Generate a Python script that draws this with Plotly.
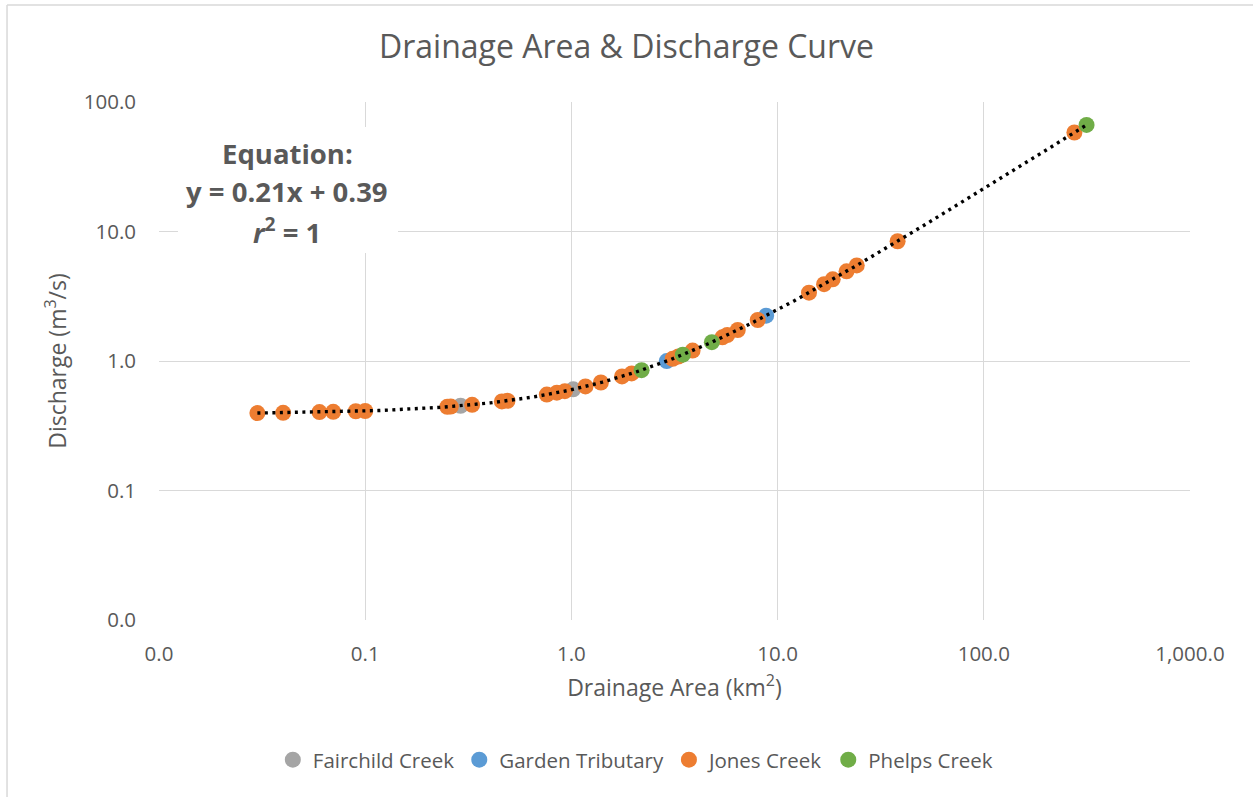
import numpy as np
import plotly.graph_objects as go

# Drainage area (km²) and discharge (m³/s) for each creek
fairchild_area = [0.29, 1.02]
fairchild_q = [0.451, 0.604]

garden_area = [2.90, 8.80]
garden_q = [0.999, 2.238]

jones_area = [0.03, 0.04, 0.06, 0.07, 0.09, 0.10, 0.25, 0.26, 0.33, 0.46, 0.49,
              0.76, 0.85, 0.93, 1.17, 1.39, 1.76, 1.96, 3.10, 3.30, 3.87, 5.40,
              5.70, 6.41, 8.01, 14.2, 16.8, 18.5, 21.6, 24.2, 38.2, 275.0]
jones_q = [0.396, 0.398, 0.403, 0.405, 0.409, 0.411, 0.443, 0.445, 0.459, 0.487, 0.493,
           0.550, 0.569, 0.585, 0.636, 0.682, 0.760, 0.802, 1.041, 1.083, 1.203, 1.524,
           1.587, 1.736, 2.072, 3.372, 3.918, 4.275, 4.926, 5.472, 8.412, 58.14]

phelps_area = [2.19, 3.47, 4.80, 315.0]
phelps_q = [0.850, 1.119, 1.398, 66.54]

# Linear trendline coefficients
SLOPE = 0.21
INTERCEPT = 0.39

x_tickvals = [0.01, 0.1, 1, 10, 100, 1000]
x_ticktext = ["0.0", "0.1", "1.0", "10.0", "100.0", "1,000.0"]
y_tickvals = [0.01, 0.1, 1, 10, 100]
y_ticktext = ["0.0", "0.1", "1.0", "10.0", "100.0"]

FONT = "Open Sans"
TEXT = "#595959"
GRID = "#D9D9D9"

series = [
    ("Fairchild Creek", fairchild_area, fairchild_q, "#A5A5A5"),
    ("Garden Tributary", garden_area, garden_q, "#5B9BD5"),
    ("Jones Creek", jones_area, jones_q, "#ED7D31"),
    ("Phelps Creek", phelps_area, phelps_q, "#70AD47"),
]

fig = go.Figure()
for name, xs, ys, color in series:
    fig.add_trace(go.Scatter(
        x=xs, y=ys, mode="markers", name=name,
        marker=dict(color=color, size=16, line=dict(width=0)),
    ))

all_x = fairchild_area + garden_area + jones_area + phelps_area
tx = np.logspace(np.log10(min(all_x)), np.log10(max(all_x)), 400)
fig.add_trace(go.Scatter(
    x=tx, y=SLOPE * tx + INTERCEPT, mode="lines", showlegend=False,
    line=dict(color="black", width=3.4, dash="3px,4.5px"), hoverinfo="skip",
))

axis_common = dict(
    type="log", showgrid=True, gridcolor=GRID, gridwidth=1,
    showline=False, zeroline=False, ticks="",
    tickfont=dict(family=FONT, size=20.5, color=TEXT),
)

fig.update_layout(
    width=1253, height=797,
    margin=dict(l=159, r=63, t=102, b=177),
    paper_bgcolor="white", plot_bgcolor="white",
    font=dict(family=FONT, color=TEXT),
    title=dict(text="Drainage Area & Discharge Curve", x=0.5, xanchor="center",
               y=0.941, yanchor="middle",
               font=dict(family=FONT, size=32, color=TEXT)),
    xaxis=dict(axis_common, range=[-2, 3], tickvals=x_tickvals, ticktext=x_ticktext,
               ticklabelstandoff=19,
               title=dict(text="Drainage Area (km<sup>2</sup>)", standoff=14,
                          font=dict(family=FONT, size=23, color=TEXT))),
    yaxis=dict(axis_common, range=[-2, 2], tickvals=y_tickvals, ticktext=y_ticktext,
               ticklabelstandoff=22,
               title=dict(text="Discharge (m<sup>3</sup>/s)", standoff=10,
                          font=dict(family=FONT, size=23, color=TEXT))),
    legend=dict(orientation="h", x=0.462, xanchor="center", y=-0.27, yanchor="middle",
                font=dict(family=FONT, size=20.5, color=TEXT), itemwidth=30,
                bgcolor="rgba(0,0,0,0)"),
    showlegend=True,
)

# Outer chart border (left and top edges)
fig.add_shape(type="line", xref="paper", yref="paper", x0=-0.1474, x1=-0.1474,
              y0=-0.40, y1=1.1873, line=dict(color=GRID, width=1.5))
fig.add_shape(type="line", xref="paper", yref="paper", x0=-0.1474, x1=1.07,
              y0=1.1873, y1=1.1873, line=dict(color=GRID, width=1.5))

# White box behind the trendline equation
fig.add_shape(type="rect", xref="paper", yref="paper", layer="above",
              x0=0.0184, x1=0.2318, y0=0.7085, y1=0.9517,
              fillcolor="white", line=dict(width=0))

eq_lines = ["<b>Equation:</b>",
            f"<b>y = {SLOPE:.2f}x + {INTERCEPT:.2f}</b>",
            "<b><i>r</i><sup>2</sup> = 1</b>"]
eq_y = [0.9015, 0.8263, 0.751]
for txt, yy in zip(eq_lines, eq_y):
    fig.add_annotation(text=txt, xref="paper", yref="paper", x=0.1242, y=yy,
                       xanchor="center", yanchor="middle", showarrow=False,
                       font=dict(family=FONT, size=27.5, color=TEXT))

fig.write_html("out.html")
